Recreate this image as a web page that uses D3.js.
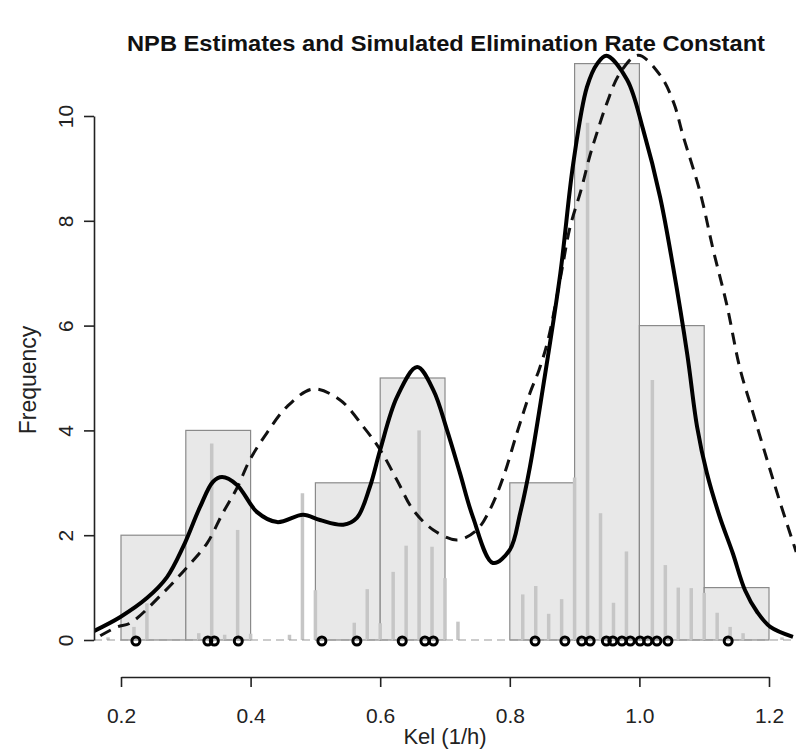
<!DOCTYPE html>
<html>
<head>
<meta charset="utf-8">
<script src="https://cdn.jsdelivr.net/npm/d3@7"></script>
<style>
  body { margin: 0; background: #fff; }
  svg { font-family: "Liberation Sans", Arial, sans-serif; }
</style>
</head>
<body>
<svg id="chart" width="796" height="752"></svg>
<script>
// histogram of simulated Kel
const breaks = [0.2, 0.3, 0.4, 0.5, 0.6, 0.7, 0.8, 0.9, 1.0, 1.1, 1.2]
const counts = [2, 4, 0, 3, 5, 0, 3, 11, 6, 1]

// NPB support points (grey needles)
const npbKel = [0.18, 0.22, 0.24, 0.32, 0.34, 0.36, 0.38, 0.40, 0.46, 0.48, 0.50, 0.56, 0.58, 0.60, 0.62, 0.64, 0.66, 0.68, 0.70, 0.72,
  0.82, 0.84, 0.86, 0.88, 0.90, 0.92, 0.94, 0.96, 0.98, 1.02, 1.04, 1.06, 1.08, 1.10, 1.12, 1.14, 1.16, 1.22]
const npbHeight = [0.05, 0.25, 0.70, 0.13, 3.75, 0.10, 2.10, 0.12, 0.10, 2.80, 0.95, 0.33, 0.97, 0.32, 1.30, 1.80, 4.00, 1.78, 1.18, 0.35,
  0.87, 1.03, 0.50, 0.78, 3.10, 9.87, 2.42, 0.71, 1.69, 4.96, 1.43, 1.00, 0.99, 0.90, 0.52, 0.25, 0.13, 0.05]

// individual estimates (rug circles)
const estimates = [0.223, 0.334, 0.344, 0.381, 0.510, 0.564, 0.634, 0.669, 0.682, 0.839, 0.885,
  0.911, 0.924, 0.949, 0.959, 0.973, 0.986, 1.001, 1.013, 1.027, 1.044, 1.137]

// solid density curve (estimates)
const solidX = [0.158, 0.199, 0.240, 0.271, 0.296, 0.322, 0.342, 0.356, 0.379, 0.410, 0.441, 0.481, 0.507, 0.543, 0.564,
  0.584, 0.600, 0.626, 0.657, 0.682, 0.703, 0.723, 0.743, 0.774, 0.800, 0.816, 0.831, 0.851, 0.878, 0.898, 0.919, 0.935, 0.949,
  0.981, 1.006, 1.032, 1.052, 1.074, 1.089, 1.104, 1.124, 1.144, 1.163, 1.182, 1.202, 1.237]
const solidY = [0.17, 0.44, 0.80, 1.20, 1.78, 2.54, 3.02, 3.11, 2.96, 2.44, 2.25, 2.39, 2.29, 2.20, 2.33,
  2.92, 3.63, 4.64, 5.21, 4.77, 4.01, 3.19, 2.35, 1.47, 1.72, 2.42, 3.30, 4.80, 7.00, 9.10, 10.55, 11.00, 11.15,
  10.69, 9.73, 8.45, 7.12, 5.44, 4.07, 3.19, 2.35, 1.66, 0.95, 0.53, 0.25, 0.06]

// dashed density curve (simulated)
const dashX = [0.168, 0.194, 0.214, 0.265, 0.302, 0.333, 0.357, 0.379, 0.399, 0.425, 0.456, 0.496, 0.538, 0.574, 0.600,
  0.626, 0.651, 0.682, 0.719, 0.749, 0.769, 0.790, 0.811, 0.831, 0.845, 0.859, 0.879, 0.893, 0.910, 0.924, 0.935, 0.950,
  0.970, 0.998, 1.032, 1.053, 1.067, 1.094, 1.114, 1.135, 1.155, 1.175, 1.197, 1.217, 1.242]
const dashY = [0.08, 0.25, 0.32, 0.90, 1.39, 1.85, 2.42, 2.90, 3.44, 3.95, 4.45, 4.79, 4.58, 4.07, 3.63,
  3.05, 2.48, 2.10, 1.91, 2.10, 2.48, 3.11, 3.95, 4.71, 5.15, 5.73, 6.97, 7.88, 8.59, 9.26, 9.70, 10.25,
  10.82, 11.16, 10.78, 10.25, 9.64, 8.53, 7.44, 6.39, 5.19, 4.35, 3.44, 2.63, 1.68]

const yTicks = [0, 2, 4, 6, 8, 10]
const xTicks = [0.2, 0.4, 0.6, 0.8, 1.0, 1.2]

const svg = d3.select('#chart')
const x = d3.scaleLinear().domain([0.2, 1.2]).range([121, 769])
const y = d3.scaleLinear().domain([0, 10]).range([640, 116])

svg.append('defs').append('clipPath').attr('id', 'plot')
  .append('rect').attr('x', 94).attr('y', 0).attr('width', 702).attr('height', 662)

const plot = svg.append('g').attr('clip-path', 'url(#plot)')

plot.selectAll('rect.bar').data(counts).join('rect')
  .attr('class', 'bar')
  .attr('x', (d, i) => x(breaks[i]))
  .attr('width', (d, i) => x(breaks[i + 1]) - x(breaks[i]))
  .attr('y', d => y(d))
  .attr('height', d => y(0) - y(d))
  .attr('fill', d => d ? '#e8e8e8' : 'none')
  .attr('stroke', d => d ? '#8a8a8a' : 'none')
  .attr('stroke-width', 1.2)

plot.selectAll('line.npb').data(npbKel).join('line')
  .attr('class', 'npb')
  .attr('x1', d => x(d)).attr('x2', d => x(d))
  .attr('y1', y(0)).attr('y2', (d, i) => y(npbHeight[i]))
  .attr('stroke', '#c6c6c6').attr('stroke-width', 3.5)

plot.append('line')
  .attr('x1', 94).attr('x2', 796).attr('y1', y(0)).attr('y2', y(0))
  .attr('stroke', '#9a9a9a').attr('stroke-width', 1.2).attr('stroke-dasharray', '8,5')

const line = d3.line().curve(d3.curveCatmullRom.alpha(0.5))

plot.append('path')
  .attr('d', line(dashX.map((v, i) => [x(v), y(dashY[i])])))
  .attr('fill', 'none').attr('stroke', '#111').attr('stroke-width', 3)
  .attr('stroke-dasharray', '12,8')

plot.append('path')
  .attr('d', line(solidX.map((v, i) => [x(v), y(solidY[i])])))
  .attr('fill', 'none').attr('stroke', '#000').attr('stroke-width', 4)

plot.selectAll('circle.est').data(estimates).join('circle')
  .attr('class', 'est')
  .attr('cx', d => x(d)).attr('cy', y(0) + 1).attr('r', 4)
  .attr('fill', 'none').attr('stroke', '#000').attr('stroke-width', 3)

// axes, R style
const yAxis = svg.append('g').attr('transform', 'translate(94,0)')
  .call(d3.axisLeft(y).tickValues(yTicks).tickSize(10).tickSizeOuter(0).tickFormat(d3.format('d')))
const xAxis = svg.append('g').attr('transform', 'translate(0,677)')
  .call(d3.axisBottom(x).tickValues(xTicks).tickSize(10).tickSizeOuter(0).tickFormat(d3.format('.1f')))

for (const ax of [xAxis, yAxis]) {
  ax.select('.domain').attr('stroke', '#222').attr('stroke-width', 1.6)
  ax.selectAll('.tick line').attr('stroke', '#222').attr('stroke-width', 1.6)
  ax.selectAll('.tick text').attr('fill', '#222').style('font-size', '21px').attr('font-family', null)
}
xAxis.selectAll('.tick text').attr('y', 0).attr('dy', null).attr('transform', 'translate(0,46)')
yAxis.selectAll('.tick text')
  .attr('x', 0).attr('dy', null).attr('text-anchor', 'middle')
  .attr('transform', 'translate(-21,0) rotate(-90)')

svg.append('text')
  .attr('x', 446).attr('y', 51).attr('text-anchor', 'middle')
  .attr('font-weight', 'bold').style('font-size', '22px').attr('fill', '#111')
  .attr('textLength', 638).attr('lengthAdjust', 'spacingAndGlyphs')
  .text('NPB Estimates and Simulated Elimination Rate Constant')

svg.append('text')
  .attr('x', 445).attr('y', 744).attr('text-anchor', 'middle')
  .style('font-size', '22px').attr('fill', '#222')
  .text('Kel (1/h)')

svg.append('text')
  .attr('transform', 'translate(36,380) rotate(-90)').attr('text-anchor', 'middle')
  .style('font-size', '23px').attr('fill', '#222')
  .text('Frequency')
</script>
</body>
</html>
